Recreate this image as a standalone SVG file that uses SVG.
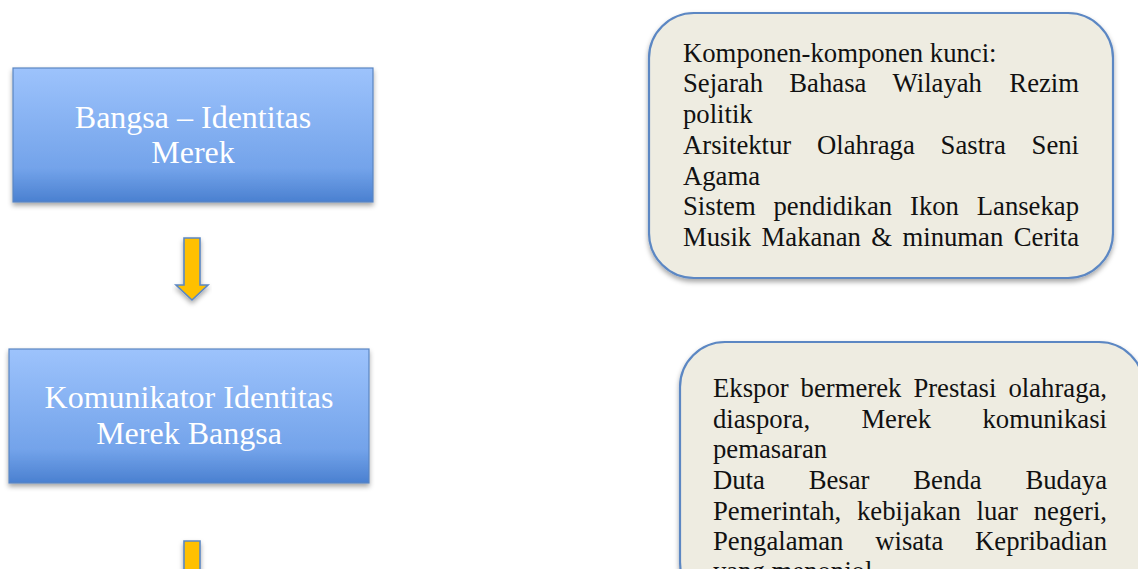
<svg xmlns="http://www.w3.org/2000/svg" width="1138" height="569" viewBox="0 0 1138 569">
<style>
.blue{fill:url(#gBlue);stroke:#5a86c2;stroke-width:1.2}
.ttl{font-family:"Liberation Serif","Times New Roman",serif;font-size:32px;fill:#ffffff;text-anchor:middle}
.note{fill:#eeece1;stroke:#5b87c3;stroke-width:2.2}
.txt{font-family:"Liberation Serif","Times New Roman",serif;font-size:26.7px;fill:#111111}
.e{text-anchor:end}
.yarrow{fill:#ffc000;stroke:#5b87c3;stroke-width:1.6;stroke-linejoin:miter}
.conn{stroke:#000000;stroke-width:4.5;fill:none}
</style>
<defs>
<linearGradient id="gBlue" x1="0" y1="0" x2="0" y2="1">
<stop offset="0" stop-color="#9dc3fc"/>
<stop offset="0.75" stop-color="#73a3ea"/>
<stop offset="1" stop-color="#4a80d0"/>
</linearGradient>
<filter id="sh" x="-10%" y="-10%" width="120%" height="130%">
<feDropShadow dx="0" dy="3" stdDeviation="2.5" flood-color="#000000" flood-opacity="0.35"/>
</filter>
<marker id="ah" markerUnits="userSpaceOnUse" markerWidth="17" markerHeight="16" viewBox="0 0 17 16" refX="1" refY="8" orient="auto">
<path d="M0,0 L17,8 L0,16 z" fill="#000000"/>
</marker>
</defs>
<rect width="1138" height="569" fill="#ffffff"/>

<g id="node-bangsa">
<rect class="blue" x="13" y="68" width="360" height="134" filter="url(#sh)"/>
<text class="ttl" x="193" y="128">Bangsa – Identitas</text>
<text class="ttl" x="193" y="163">Merek</text>
</g>

<g id="node-komunikator">
<rect class="blue" x="9" y="349" width="360" height="134" filter="url(#sh)"/>
<text class="ttl" x="189" y="408">Komunikator Identitas</text>
<text class="ttl" x="189" y="444">Merek Bangsa</text>
</g>

<g id="node-komponen">
<rect class="note" x="649" y="13" width="464" height="265" rx="45" ry="45" filter="url(#sh)"/>
<text class="txt" x="683" y="62">Komponen-komponen kunci:</text>
<text class="txt" y="92"><tspan x="683">Sejarah</tspan><tspan x="789.3">Bahasa</tspan><tspan x="892.6">Wilayah</tspan><tspan class="e" x="1079">Rezim</tspan></text>
<text class="txt" x="683" y="123">politik</text>
<text class="txt" y="154"><tspan x="683">Arsitektur</tspan><tspan x="817">Olahraga</tspan><tspan x="940.6">Sastra</tspan><tspan class="e" x="1079">Seni</tspan></text>
<text class="txt" x="683" y="185">Agama</text>
<text class="txt" y="215"><tspan x="683">Sistem</tspan><tspan x="773.5">pendidikan</tspan><tspan x="910">Ikon</tspan><tspan class="e" x="1079">Lansekap</tspan></text>
<text class="txt" y="246"><tspan x="683">Musik</tspan><tspan x="761.6">Makanan</tspan><tspan x="871.3">&amp;</tspan><tspan x="902.5">minuman</tspan><tspan class="e" x="1079">Cerita</tspan></text>
</g>

<g id="node-komunikator-detail">
<rect class="note" x="680" y="342" width="464" height="265" rx="45" ry="45" filter="url(#sh)"/>
<text class="txt" y="397"><tspan x="713">Ekspor</tspan><tspan x="800.6">bermerek</tspan><tspan x="913.4">Prestasi</tspan><tspan class="e" x="1107">olahraga,</tspan></text>
<text class="txt" y="428"><tspan x="713">diaspora,</tspan><tspan x="861.4">Merek</tspan><tspan class="e" x="1107">komunikasi</tspan></text>
<text class="txt" x="713" y="458">pemasaran</text>
<text class="txt" y="489"><tspan x="713">Duta</tspan><tspan x="808.7">Besar</tspan><tspan x="913.3">Benda</tspan><tspan class="e" x="1107">Budaya</tspan></text>
<text class="txt" y="520"><tspan x="713">Pemerintah,</tspan><tspan x="857">kebijakan</tspan><tspan x="976.5">luar</tspan><tspan class="e" x="1107">negeri,</tspan></text>
<text class="txt" y="550"><tspan x="713">Pengalaman</tspan><tspan x="875.2">wisata</tspan><tspan class="e" x="1107">Kepribadian</tspan></text>
<text class="txt" x="713" y="580">yang menonjol</text>
</g>

<g id="connectors">
<line class="conn" x1="373" y1="119.5" x2="612" y2="119.5" marker-end="url(#ah)" filter="url(#sh)"/>
<path class="yarrow" d="M184,238 H200 V285 H208 L192,300 L176,285 H184 Z" filter="url(#sh)"/>
<path class="yarrow" d="M184,541 H200 V588 H208 L192,603 L176,588 H184 Z" filter="url(#sh)"/>
</g>
</svg>
